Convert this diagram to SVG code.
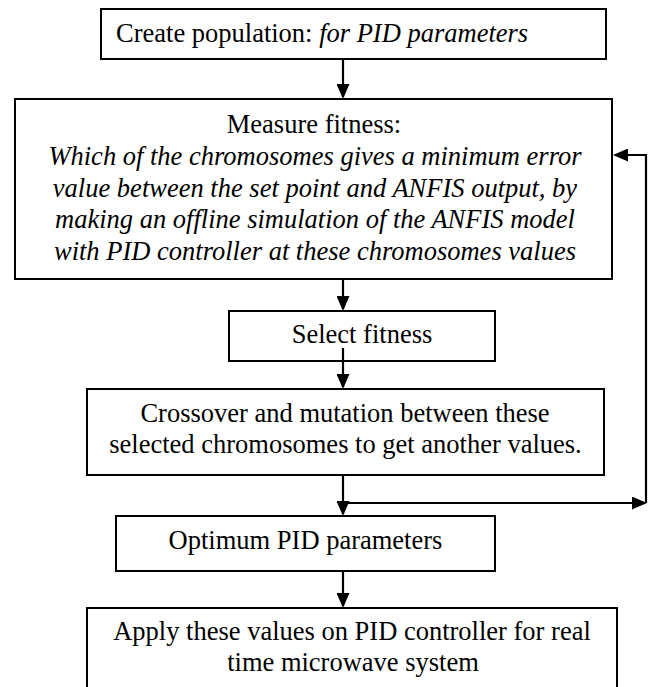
<svg xmlns="http://www.w3.org/2000/svg" width="651" height="687" viewBox="0 0 651 687">
<style>
.box{fill:#fff;stroke:#000;stroke-width:2}
.t{font-family:"Liberation Serif","Times New Roman",serif;font-size:26.5px;fill:#000}
.c{text-anchor:middle}
.i{font-style:italic}
.ln{fill:none;stroke:#000;stroke-width:2.2}
</style>
<defs>
<marker id="ah" viewBox="0 0 15 13" refX="13" refY="6.5" markerWidth="15" markerHeight="13" markerUnits="userSpaceOnUse" orient="auto">
<path d="M0,0 L15,6.5 L0,13 z" fill="#000"/>
</marker>
</defs>
<rect width="651" height="687" fill="#fff"/>
<g id="n1">
<rect class="box" x="101" y="9" width="505" height="50"/>
<text class="t" x="116" y="42">Create population: <tspan class="i">for PID parameters</tspan></text>
</g>
<g id="n2">
<rect class="box" x="15" y="99" width="597" height="180"/>
<text class="t c" x="314" y="133">Measure fitness:</text>
<text class="t c i" x="315" y="164.8">Which of the chromosomes gives a minimum error</text>
<text class="t c i" x="315" y="196.5">value between the set point and ANFIS output, by</text>
<text class="t c i" x="315" y="228.3">making an offline simulation of the ANFIS model</text>
<text class="t c i" x="315" y="260">with PID controller at these chromosomes values</text>
</g>
<g id="n3">
<rect class="box" x="229" y="311" width="266" height="50"/>
<text class="t c" x="362" y="343">Select fitness</text>
</g>
<g id="n4">
<rect class="box" x="87" y="389" width="517" height="86"/>
<text class="t c" x="345" y="422">Crossover and mutation between these</text>
<text class="t c" x="345.5" y="453">selected chromosomes to get another values.</text>
</g>
<g id="n5">
<rect class="box" x="116" y="516" width="379" height="55"/>
<text class="t c" x="305.5" y="549">Optimum PID parameters</text>
</g>
<g id="n6">
<rect class="box" x="87" y="608" width="530" height="100"/>
<text class="t c" x="352" y="640">Apply these values on PID controller for real</text>
<text class="t c" x="353" y="671">time microwave system</text>
</g>
<g id="connectors">
<path class="ln" d="M343,60 V97" marker-end="url(#ah)"/>
<path class="ln" d="M343,280 V309" marker-end="url(#ah)"/>
<path class="ln" d="M343,348 V387" marker-end="url(#ah)"/>
<path class="ln" d="M343,476 V514" marker-end="url(#ah)"/>
<path class="ln" d="M343,572 V606" marker-end="url(#ah)"/>
<path class="ln" d="M343,503 H645" marker-end="url(#ah)"/>
<path class="ln" d="M646,503 V155 H615" marker-end="url(#ah)"/>
</g>
</svg>
